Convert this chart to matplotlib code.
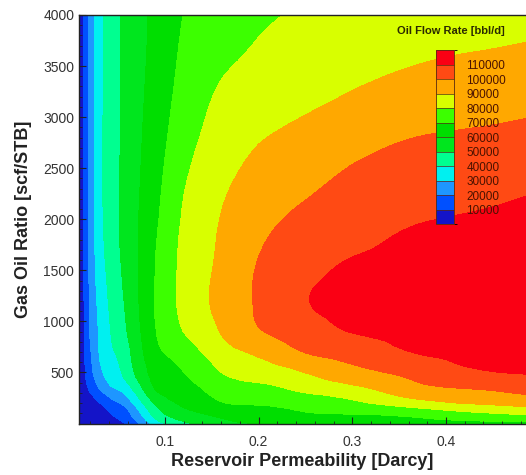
import numpy as np
import matplotlib
matplotlib.use("Agg")
from matplotlib import pyplot as plt
from matplotlib.colors import ListedColormap, BoundaryNorm
from matplotlib.ticker import MultipleLocator
import matplotlib.tri as mtri

plt.rcParams['font.family'] = ['Liberation Sans', 'DejaVu Sans']

# permeability grid [Darcy]
perm = [0.008, 0.014, 0.02, 0.03, 0.045, 0.065, 0.09, 0.12, 0.16, 0.2, 0.25, 0.3, 0.36, 0.42, 0.5]
# gas oil ratio grid [scf/STB]
gor = [0, 100, 200, 350, 500, 700, 900, 1150, 1400, 1700, 2000, 2400, 2800, 3200, 3600, 4000]

# oil flow rate, in 1000 bbl/d (rows = gor, cols = perm)
rate_k = [
    [1.0, 2.0, 3.0, 4.0, 7.0, 15.0, 35.0, 48.0, 57.0, 60.0, 62.0, 64.0, 66.0, 67.0, 68.0],
    [1.5, 3.5, 5.0, 6.5, 11.0, 22.0, 45.0, 57.0, 63.0, 66.5, 69.5, 70.5, 73.0, 78.0, 83.0],
    [2.0, 4.5, 6.5, 10.0, 17.5, 30.0, 52.0, 62.0, 69.5, 71.0, 74.0, 78.0, 85.5, 90.5, 95.0],
    [2.5, 7.4, 12.0, 20.9, 30.0, 41.0, 61.0, 67.0, 74.5, 77.5, 83.0, 88.0, 96.5, 100.5, 105.0],
    [3.5, 9.0, 16.7, 27.7, 36.0, 48.5, 64.0, 70.0, 80.0, 85.0, 90.3, 97.0, 102.5, 108.5, 110.8],
    [4.0, 10.0, 18.8, 30.6, 39.5, 51.5, 67.5, 75.0, 85.8, 92.0, 100.4, 104.5, 109.8, 112.0, 113.5],
    [4.0, 10.5, 20.7, 31.4, 42.0, 54.0, 69.7, 80.2, 90.5, 99.2, 106.0, 110.3, 112.2, 113.5, 115.0],
    [4.0, 10.6, 21.4, 32.9, 43.6, 55.5, 70.8, 82.6, 92.8, 101.3, 109.3, 112.0, 113.0, 114.2, 115.5],
    [4.0, 11.0, 22.5, 34.5, 45.0, 56.5, 70.5, 82.8, 92.6, 101.3, 108.6, 111.4, 112.6, 113.8, 115.2],
    [4.0, 11.0, 23.0, 36.0, 46.5, 57.0, 69.8, 82.3, 91.3, 99.5, 106.2, 109.5, 111.0, 112.6, 114.2],
    [4.0, 11.0, 23.3, 37.0, 47.0, 57.0, 68.5, 81.2, 90.3, 97.0, 102.3, 106.3, 109.2, 110.5, 112.3],
    [4.0, 11.0, 23.3, 37.5, 47.0, 56.5, 67.0, 78.9, 87.6, 93.5, 97.5, 101.7, 104.3, 106.0, 108.6],
    [4.0, 11.0, 23.3, 37.5, 46.8, 56.0, 65.5, 76.2, 84.0, 89.2, 93.0, 96.5, 99.8, 101.0, 103.0],
    [4.0, 11.0, 23.3, 37.0, 46.8, 55.5, 64.3, 73.8, 81.2, 84.3, 87.6, 90.8, 93.8, 95.8, 97.5],
    [4.0, 11.0, 23.3, 37.0, 46.8, 55.0, 63.3, 71.8, 78.0, 81.2, 84.0, 86.5, 88.8, 90.3, 92.0],
    [4.0, 11.0, 23.3, 37.0, 46.8, 54.8, 62.6, 70.2, 74.5, 78.5, 81.0, 83.0, 85.0, 86.0, 87.5],
]

levels = [0, 10000, 20000, 30000, 40000, 50000, 60000, 70000, 80000, 90000, 100000, 110000, 130000]
tick_levels = levels[1:-1]
band_colors = ['#1414c8', '#0050ff', '#1e96ff', '#00f0f0', '#00ff90', '#00e61e',
               '#00de00', '#3cff00', '#d8ff00', '#ffa800', '#ff4a14', '#fa0014']

Q = np.array(rate_k) * 1000
nr, nc = Q.shape

# triangulate the grid in index space, smooth it with matplotlib's refiner
ii, jj = np.meshgrid(np.arange(nc), np.arange(nr))
tris = []
for r in range(nr - 1):
    for c in range(nc - 1):
        a = r * nc + c
        tris.append([a, a + 1, a + nc + 1])
        tris.append([a, a + nc + 1, a + nc])
tri_idx = mtri.Triangulation(ii.ravel().astype(float), jj.ravel().astype(float), tris)
refiner = mtri.UniformTriRefiner(tri_idx)
tri_fine, q_fine = refiner.refine_field(Q.ravel(), subdiv=4)
k_fine = np.interp(tri_fine.x, np.arange(nc), perm)
g_fine = np.interp(tri_fine.y, np.arange(nr), gor)
tri_plot = mtri.Triangulation(k_fine, g_fine, tri_fine.triangles)

cmap = ListedColormap(band_colors)
norm = BoundaryNorm(levels, cmap.N)

fig = plt.figure(figsize=(5.26, 4.75), dpi=100)
ax = fig.add_axes([79 / 526, 51.5 / 475, 1 - 79 / 526, (423.5 - 15) / 475])
cs = ax.tricontourf(tri_plot, np.clip(q_fine, 0, 129000), levels=levels, cmap=cmap, norm=norm)

ax.set_xlim(0.0082, 0.4854)
ax.set_ylim(0, 4000)
ax.set_xticks([0.1, 0.2, 0.3, 0.4])
ax.set_xticklabels(['0.1', '0.2', '0.3', '0.4'])
ax.set_yticks([500, 1000, 1500, 2000, 2500, 3000, 3500, 4000])
ax.xaxis.set_minor_locator(MultipleLocator(0.02))
ax.yaxis.set_minor_locator(MultipleLocator(100))
ax.tick_params(which='major', direction='in', length=5, width=0.8, colors='#222222',
               labelsize=10, labelcolor='#333333', top=False, right=False)
ax.tick_params(axis='x', which='major', pad=8)
ax.tick_params(which='minor', direction='in', length=2.5, width=0.6, colors='#222222',
               top=False, right=False)
for s in ['left', 'bottom', 'top']:
    ax.spines[s].set_color('#222222')
    ax.spines[s].set_linewidth(1.0)
ax.spines['right'].set_visible(False)

ax.set_xlabel('Reservoir Permeability [Darcy]', fontsize=13, fontweight='bold',
              color='#222222', labelpad=3)
ax.set_ylabel('Gas Oil Ratio [scf/STB]', fontsize=13, fontweight='bold',
              color='#222222', labelpad=8)

# legend (colour bar) inside the plot
cax = fig.add_axes([436 / 526, (475 - 224) / 475, 18 / 526, 174 / 475])
cb = fig.colorbar(cs, cax=cax, ticks=tick_levels, drawedges=True)
cb.ax.set_yticklabels([str(v) for v in tick_levels])
cb.ax.tick_params(length=0, labelsize=8.5, labelcolor='#4a1200', pad=9)
cb.outline.set_edgecolor('#5a2a10')
cb.outline.set_linewidth(0.6)
cb.dividers.set_color('#5a2a10')
cb.dividers.set_linewidth(0.5)
fig.text(451 / 526, 1 - 31 / 475, 'Oil Flow Rate [bbl/d]', fontsize=8, fontweight='bold',
         color='#2a2a00', ha='center', va='center')

fig.savefig('out.png', dpi=100)
